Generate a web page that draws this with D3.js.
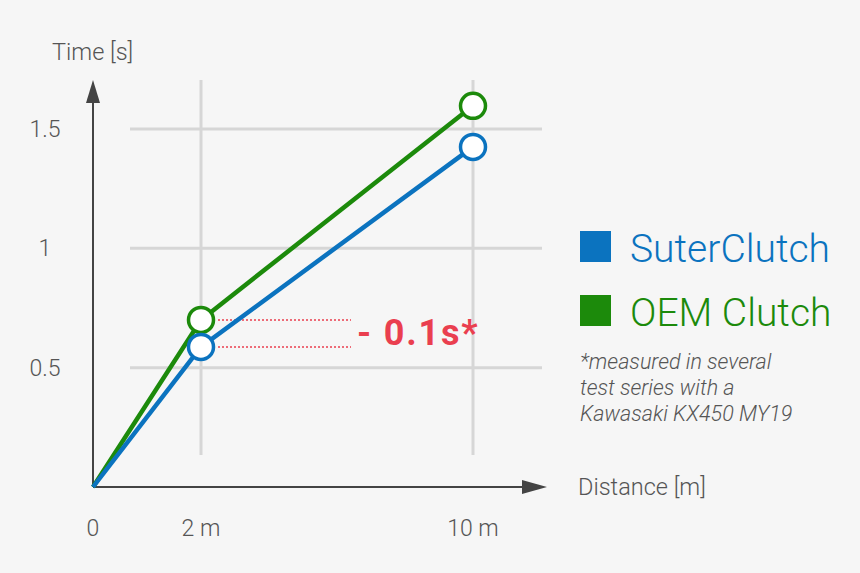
<!DOCTYPE html>
<html><head><meta charset="utf-8">
<script src="https://cdn.jsdelivr.net/npm/d3@7"></script>
<style>
html,body{margin:0;padding:0;background:#f6f6f6;}
svg{display:block;font-family:Roboto,"Open Sans",sans-serif;}
</style></head>
<body><svg id="c" width="860" height="573"></svg>
<script>
const distances = [0, 2, 10];
const xTickLabels = ["0", "2 m", "10 m"];
const yTicks = [0.5, 1, 1.5];
const yTickLabels = ["0.5", "1", "1.5"];
const suterValues = [0, 0.587, 1.425];
const oemValues = [0, 0.70, 1.597];
const seriesNames = ["SuterClutch", "OEM Clutch"];
const seriesColors = ["#0b73bf", "#1c8a0b"];
const diffLabel = "- 0.1s*";
const footnote = ["*measured in several", "test series with a", "Kawasaki KX450 MY19"];

const svg = d3.select("#c");
const x = d3.scaleLinear().domain(distances).range([93, 201, 473]);
const y = d3.scaleLinear().domain([0, 1.5]).range([487, 129]);

// grid
const g = svg.append("g");
g.selectAll(".hg").data(yTicks).join("line")
  .attr("x1", 130).attr("x2", 542)
  .attr("y1", d => y(d)).attr("y2", d => y(d))
  .attr("stroke", "#d6d6d6").attr("stroke-width", 3);
g.selectAll(".vg").data(distances.slice(1)).join("line")
  .attr("x1", d => x(d)).attr("x2", d => x(d))
  .attr("y1", 80).attr("y2", 455)
  .attr("stroke", "#d6d6d6").attr("stroke-width", 3);

// axes with arrows
const axisColor = "#444";
svg.append("line").attr("x1", x(0)).attr("x2", x(0)).attr("y1", y(0)).attr("y2", 100)
  .attr("stroke", axisColor).attr("stroke-width", 2);
svg.append("path").attr("d", `M${x(0)},80 L${x(0)-7},103 L${x(0)+7},103 Z`).attr("fill", axisColor);
svg.append("line").attr("x1", x(0)).attr("x2", 525).attr("y1", y(0)).attr("y2", y(0))
  .attr("stroke", axisColor).attr("stroke-width", 2);
svg.append("path").attr("d", `M547,${y(0)} L522,${y(0)-7} L522,${y(0)+7} Z`).attr("fill", axisColor);

// tick labels
const tickColor = "#555";
svg.selectAll(".yt").data(yTicks).join("text")
  .attr("x", 45).attr("y", d => y(d) + 8).attr("text-anchor", "middle")
  .attr("font-size", 23).attr("font-weight", 300).attr("fill", tickColor)
  .text((d, i) => yTickLabels[i]);
svg.selectAll(".xt").data(distances).join("text")
  .attr("x", d => x(d)).attr("y", 536).attr("text-anchor", "middle")
  .attr("font-size", 23).attr("font-weight", 300).attr("fill", tickColor)
  .text((d, i) => xTickLabels[i]);
svg.append("text").attr("x", 52).attr("y", 60).attr("font-size", 23.5).attr("font-weight", 300)
  .attr("fill", tickColor).text("Time [s]");
svg.append("text").attr("x", 578).attr("y", 495).attr("font-size", 23.5).attr("font-weight", 300)
  .attr("fill", tickColor).text("Distance [m]");

// annotation dotted lines
const red = "#ea3f4f";
[oemValues[1], suterValues[1]].forEach(v => {
  svg.append("line").attr("x1", x(2) + 17).attr("x2", 351)
    .attr("y1", y(v)).attr("y2", y(v))
    .attr("stroke", red).attr("stroke-width", 1.5).attr("stroke-dasharray", "2,2");
});
svg.append("text").attr("x", 357).attr("y", 345).attr("font-size", 36).attr("font-weight", 700)
  .attr("letter-spacing", 1.8).attr("fill", red).text(diffLabel);

// series
const line = d3.line().x((d, i) => x(distances[i])).y(d => y(d));
const series = [oemValues, suterValues];
const cols = [seriesColors[1], seriesColors[0]];
series.forEach((vals, k) => {
  svg.append("path").attr("d", line(vals)).attr("fill", "none")
    .attr("stroke", cols[k]).attr("stroke-width", 4.5);
});
series.forEach((vals, k) => {
  svg.selectAll(null).data(vals.slice(1)).join("circle")
    .attr("cx", (d, i) => x(distances[i + 1])).attr("cy", d => y(d)).attr("r", 12.5)
    .attr("fill", "#fff").attr("stroke", cols[k]).attr("stroke-width", 3.5);
});

// legend
seriesNames.forEach((n, i) => {
  const yy = 231 + i * 64;
  svg.append("rect").attr("x", 580).attr("y", yy).attr("width", 31).attr("height", 31)
    .attr("fill", seriesColors[i]);
  svg.append("text").attr("x", 630).attr("y", yy + 30.5).attr("font-size", 39).attr("font-weight", 300)
    .attr("fill", seriesColors[i]).text(n);
});
footnote.forEach((t, i) => {
  svg.append("text").attr("x", 580).attr("y", 369 + i * 26).attr("font-size", 21.5)
    .attr("font-style", "italic").attr("font-weight", 300).attr("fill", "#555").text(t);
});
</script></body></html>
